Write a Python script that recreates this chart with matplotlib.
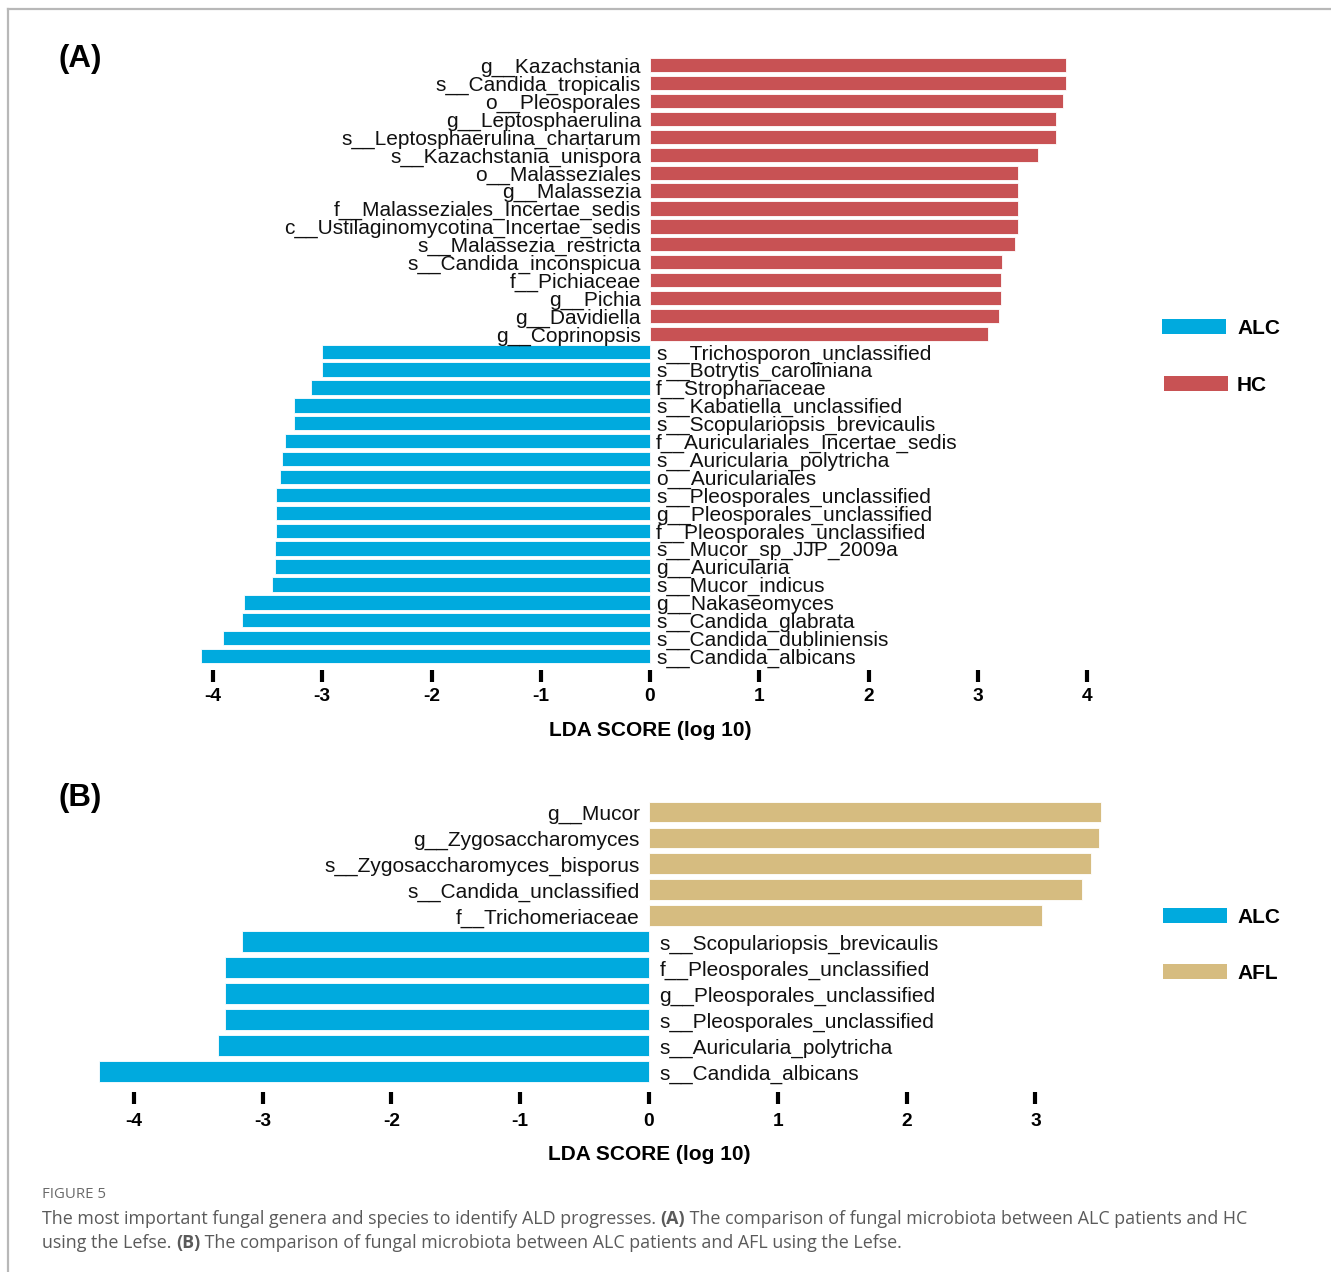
import matplotlib
matplotlib.use("Agg")
import matplotlib.pyplot as plt
from matplotlib.lines import Line2D
from matplotlib.patches import Rectangle

# ---------------- data ----------------
# Panel A: ALC vs HC (top to bottom as drawn)
a_hc_taxa = [
    "g__Kazachstania", "s__Candida_tropicalis", "o__Pleosporales",
    "g__Leptosphaerulina", "s__Leptosphaerulina_chartarum",
    "s__Kazachstania_unispora", "o__Malasseziales", "g__Malassezia",
    "f__Malasseziales_Incertae_sedis", "c__Ustilaginomycotina_Incertae_sedis",
    "s__Malassezia_restricta", "s__Candida_inconspicua", "f__Pichiaceae",
    "g__Pichia", "g__Davidiella", "g__Coprinopsis",
]
a_hc_lda = [3.81, 3.81, 3.78, 3.72, 3.72, 3.55, 3.37, 3.37,
            3.37, 3.37, 3.34, 3.22, 3.21, 3.21, 3.19, 3.09]

a_alc_taxa = [
    "s__Trichosporon_unclassified", "s__Botrytis_caroliniana",
    "f__Strophariaceae", "s__Kabatiella_unclassified",
    "s__Scopulariopsis_brevicaulis", "f__Auriculariales_Incertae_sedis",
    "s__Auricularia_polytricha", "o__Auriculariales",
    "s__Pleosporales_unclassified", "g__Pleosporales_unclassified",
    "f__Pleosporales_unclassified", "s__Mucor_sp_JJP_2009a",
    "g__Auricularia", "s__Mucor_indicus", "g__Nakaseomyces",
    "s__Candida_glabrata", "s__Candida_dubliniensis", "s__Candida_albicans",
]
a_alc_lda = [-3.00, -3.00, -3.10, -3.26, -3.26, -3.34, -3.37, -3.39, -3.42,
             -3.42, -3.42, -3.43, -3.43, -3.46, -3.72, -3.73, -3.91, -4.11]

# Panel B: ALC vs AFL
b_afl_taxa = [
    "g__Mucor", "g__Zygosaccharomyces", "s__Zygosaccharomyces_bisporus",
    "s__Candida_unclassified", "f__Trichomeriaceae",
]
b_afl_lda = [3.51, 3.49, 3.43, 3.36, 3.05]

b_alc_taxa = [
    "s__Scopulariopsis_brevicaulis", "f__Pleosporales_unclassified",
    "g__Pleosporales_unclassified", "s__Pleosporales_unclassified",
    "s__Auricularia_polytricha", "s__Candida_albicans",
]
b_alc_lda = [-3.16, -3.29, -3.29, -3.29, -3.35, -4.27]

a_ticks = [-4, -3, -2, -1, 0, 1, 2, 3, 4]
b_ticks = [-4, -3, -2, -1, 0, 1, 2, 3]

group_names_a = ["ALC", "HC"]
group_names_b = ["ALC", "AFL"]

# ---------------- style ----------------
BLUE = "#00AADE"
RED = "#C85254"
TAN = "#D6BC80"

plt.rcParams["font.family"] = ["Liberation Sans", "DejaVu Sans"]
plt.rcParams["axes.unicode_minus"] = False

W, H, DPI = 1331, 1272, 100
fig = plt.figure(figsize=(W / DPI, H / DPI), dpi=DPI)
fig.patch.set_facecolor("white")


def add_axes_px(zero_px, unit_px, xlim, top_px, bottom_px):
    left = zero_px + xlim[0] * unit_px
    right = zero_px + xlim[1] * unit_px
    return fig.add_axes([left / W, 1 - bottom_px / H,
                         (right - left) / W, (bottom_px - top_px) / H])


def draw_panel(ax, pos_taxa, pos_vals, pos_color, neg_taxa, neg_vals,
               ticks, xlim, tick_out, tick_len, tick_pad,
               lab_off_left, lab_off_right, lab_drop, label_y_px,
               top_px, bottom_px):
    taxa = pos_taxa + neg_taxa
    vals = pos_vals + neg_vals
    colors = [pos_color] * len(pos_taxa) + [BLUE] * len(neg_taxa)
    n = len(taxa)
    ypos = list(range(n))
    ax.barh(ypos, vals, height=0.8, color=colors, edgecolor="white",
            linewidth=0.6)
    for y, name, v in zip(ypos, taxa, vals):
        if v > 0:
            ax.annotate(name, xy=(0, y), xytext=(-lab_off_left, -lab_drop),
                        textcoords="offset points", ha="right", va="center",
                        fontsize=15, color="#111111")
        else:
            ax.annotate(name, xy=(0, y), xytext=(lab_off_right, -lab_drop),
                        textcoords="offset points", ha="left", va="center",
                        fontsize=15, color="#111111")
    ax.set_xlim(*xlim)
    ax.set_ylim(n - 0.5, -0.5)
    ax.set_yticks([])
    ax.set_xticks(ticks)
    ax.set_xticklabels([str(t) for t in ticks])
    for s in ax.spines.values():
        s.set_visible(False)
    ax.spines["bottom"].set_position(("outward", tick_out))
    ax.tick_params(axis="x", direction="out", length=tick_len, width=3,
                   pad=tick_pad, labelsize=13.8, color="black")
    for t in ax.get_xticklabels():
        t.set_fontweight("bold")
    ax.set_xlabel("LDA SCORE (log 10)", fontsize=15, fontweight="bold")
    ax.xaxis.label.set_va("center")
    x0 = (0 - xlim[0]) / (xlim[1] - xlim[0])
    ax.xaxis.set_label_coords(x0, (bottom_px - label_y_px) / (bottom_px - top_px))
    ax.patch.set_alpha(0)


# Panel A
a_xlim = (-4.6, 4.6)
a_top, a_bot = 56.3, 665.0
axA = add_axes_px(650, 109.25, a_xlim, a_top, a_bot)
draw_panel(axA, a_hc_taxa, a_hc_lda, RED, a_alc_taxa, a_alc_lda, a_ticks,
           a_xlim, 5 * 0.72, 8.4, 4.6, 6.5, 4.5, 1.6, 731, a_top, a_bot)

# Panel B
b_xlim = (-4.6, 4.0)
b_top, b_bot = 799.0, 1084.3
axB = add_axes_px(649, 128.8, b_xlim, b_top, b_bot)
draw_panel(axB, b_afl_taxa, b_afl_lda, TAN, b_alc_taxa, b_alc_lda, b_ticks,
           b_xlim, 7.5 * 0.72, 8.9, 6.3, 6.5, 7.5, 2.0, 1155, b_top, b_bot)


# Legends
def legend_entry(x_px, y_px, color, name):
    fig.add_artist(Rectangle((x_px / W, 1 - (y_px + 7.5) / H), 64 / W, 15 / H,
                             transform=fig.transFigure, facecolor=color,
                             edgecolor="none"))
    fig.text(1237 / W, 1 - (y_px + 2) / H, name, fontsize=15,
             fontweight="bold", va="center", ha="left")


legend_entry(1162, 326.5, BLUE, group_names_a[0])
legend_entry(1164, 383.5, RED, group_names_a[1])
legend_entry(1163, 915.5, BLUE, group_names_b[0])
legend_entry(1163, 971.5, TAN, group_names_b[1])

# Panel tags
fig.text(59 / W, 1 - 59 / H, "(A)", fontsize=22.5, fontweight="bold", va="center")
fig.text(59 / W, 1 - 798 / H, "(B)", fontsize=22.5, fontweight="bold", va="center")

# Frame
frame_kw = dict(transform=fig.transFigure, color="#b8b8b8", lw=1.6)
fig.add_artist(Line2D([8 / W, 1], [1 - 9 / H, 1 - 9 / H], **frame_kw))
fig.add_artist(Line2D([8 / W, 8 / W], [0, 1 - 9 / H], **frame_kw))

# Caption
cap_font = ["Open Sans", "DejaVu Sans"]
fig.text(42 / W, 1 - 1195 / H, "FIGURE 5", fontsize=10.8, color="#6a6a6a",
         family=cap_font, va="center")


def caption_line(y_px, pieces):
    prev = None
    for txt, bold in pieces:
        kw = dict(fontsize=12.9, color="#5a5a5a", family=cap_font,
                  fontweight="bold" if bold else "normal", va="bottom",
                  ha="left")
        if prev is None:
            prev = fig.text(42 / W, 1 - (y_px + 10) / H, txt, **kw)
        else:
            prev = fig.add_artist(plt.Annotation(txt, xy=(1, 0),
                                                 xycoords=prev, **kw))


caption_line(1218, [
    ("The most important fungal genera and species to identify ALD progresses. ", False),
    ("(A)", True),
    (" The comparison of fungal microbiota between ALC patients and HC", False),
])
caption_line(1242, [
    ("using the Lefse. ", False),
    ("(B)", True),
    (" The comparison of fungal microbiota between ALC patients and AFL using the Lefse.", False),
])

fig.savefig("out.png", dpi=DPI, facecolor="white")
